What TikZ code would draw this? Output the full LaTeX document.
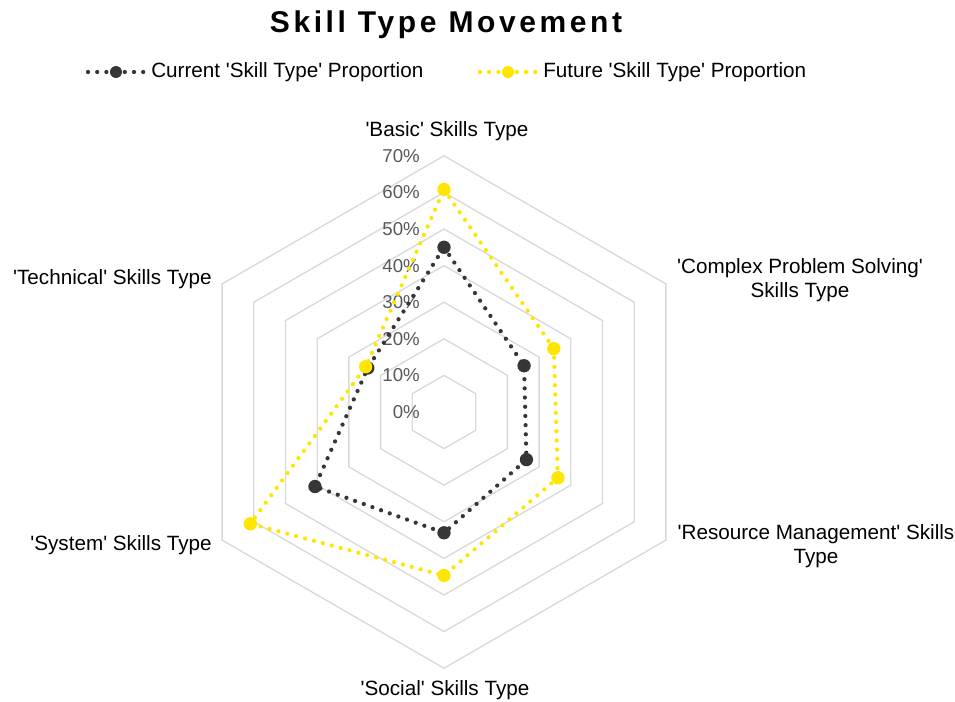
\documentclass[tikz,border=0pt]{standalone}
\usepackage{fontspec}
\setmainfont{Liberation Sans}
\newfontfamily\titlefont[LetterSpace=12]{Liberation Sans}
\usetikzlibrary{positioning}
\definecolor{curgray}{HTML}{363636}
\definecolor{futyellow}{HTML}{FFE600}
\definecolor{gridgray}{HTML}{D9D9D9}
\definecolor{tickgray}{HTML}{595959}
\newcommand\sq{\textquotesingle}
\tikzset{
  hexgrid/.style={draw=gridgray, line width=1pt, line join=miter},
  current/.style={draw=curgray, line width=3.2pt, line cap=round, dash pattern=on 0pt off 6.9pt},
  future/.style={draw=futyellow, line width=3.2pt, line cap=round, dash pattern=on 0pt off 6.9pt},
  curdot/.style={circle, fill=curgray, inner sep=0pt, minimum size=10pt},
  futdot/.style={circle, fill=futyellow, inner sep=0pt, minimum size=10pt},
  ticklabel/.style={anchor=east, text=tickgray, inner sep=0pt, font=\fontsize{14}{16}\selectfont},
  axislabel/.style={align=center, inner sep=0pt, font=\fontsize{15.5}{18}\selectfont},
  legendtext/.style={anchor=west, inner sep=0pt, font=\fontsize{15.5}{18}\selectfont}
}

\begin{document}
\begin{tikzpicture}[x=0.75pt, y=0.75pt]
    \useasboundingbox (-444,-289) rectangle (511,412);

    \node[font=\titlefont\bfseries\fontsize{22.5}{26}\selectfont] (title) at (2,387) {Skill Type Movement};

    % grid rings, 10% steps
    \draw[hexgrid] (90:36.6) -- (30:36.6) -- (-30:36.6) -- (-90:36.6) -- (210:36.6) -- (150:36.6) -- cycle;
    \draw[hexgrid] (90:73.2) -- (30:73.2) -- (-30:73.2) -- (-90:73.2) -- (210:73.2) -- (150:73.2) -- cycle;
    \draw[hexgrid] (90:109.8) -- (30:109.8) -- (-30:109.8) -- (-90:109.8) -- (210:109.8) -- (150:109.8) -- cycle;
    \draw[hexgrid] (90:146.4) -- (30:146.4) -- (-30:146.4) -- (-90:146.4) -- (210:146.4) -- (150:146.4) -- cycle;
    \draw[hexgrid] (90:183) -- (30:183) -- (-30:183) -- (-90:183) -- (210:183) -- (150:183) -- cycle;
    \draw[hexgrid] (90:219.6) -- (30:219.6) -- (-30:219.6) -- (-90:219.6) -- (210:219.6) -- (150:219.6) -- cycle;
    \draw[hexgrid] (90:256.2) -- (30:256.2) -- (-30:256.2) -- (-90:256.2) -- (210:256.2) -- (150:256.2) -- cycle;

    \node[ticklabel] (t0) at (-24,0) {0\%};
    \node[ticklabel] (t1) at (-24,36.6) {10\%};
    \node[ticklabel] (t2) at (-24,73.2) {20\%};
    \node[ticklabel] (t3) at (-24,109.8) {30\%};
    \node[ticklabel] (t4) at (-24,146.4) {40\%};
    \node[ticklabel] (t5) at (-24,183) {50\%};
    \node[ticklabel] (t6) at (-24,219.6) {60\%};
    \node[ticklabel] (t7) at (-24,256.2) {70\%};

    \node[axislabel] (basic) at (3,281) {\sq Basic\sq{} Skills Type};
    \node[axislabel] (complex) at (356,132) {\sq Complex Problem Solving\sq\\Skills Type};
    \node[axislabel] (resource) at (372,-134) {\sq Resource Management\sq{} Skills\\Type};
    \node[axislabel] (social) at (1,-278) {\sq Social\sq{} Skills Type};
    \node[axislabel, anchor=east] (system) at (-232,-133) {\sq System\sq{} Skills Type};
    \node[axislabel, anchor=east] (technical) at (-232,133) {\sq Technical\sq{} Skills Type};

    % current proportion
    \coordinate (cb) at (90:164.7);
    \coordinate (cc) at (30:92.5);
    \coordinate (cr) at (-30:95.2);
    \coordinate (cs) at (-90:120.8);
    \coordinate (cy) at (210:149);
    \coordinate (ct) at (150:88);
    \draw[current] (cb) -- (cc) -- (cr) -- (cs) -- (cy) -- (ct) -- cycle;
    \node[curdot] (cbm) at (cb) {};
    \node[curdot] (ccm) at (cc) {};
    \node[curdot] (crm) at (cr) {};
    \node[curdot] (csm) at (cs) {};
    \node[curdot] (cym) at (cy) {};
    \node[curdot] (ctm) at (ct) {};

    % future proportion
    \coordinate (fb) at (90:222.5);
    \coordinate (fc) at (30:126.8);
    \coordinate (fr) at (-30:131.5);
    \coordinate (fs) at (-90:163.5);
    \coordinate (fy) at (210:223.6);
    \coordinate (ft) at (150:90.5);
    \draw[future] (fb) -- (fc) -- (fr) -- (fs) -- (fy) -- (ft) -- cycle;
    \node[futdot] (fbm) at (fb) {};
    \node[futdot] (fcm) at (fc) {};
    \node[futdot] (frm) at (fr) {};
    \node[futdot] (fsm) at (fs) {};
    \node[futdot] (fym) at (fy) {};
    \node[futdot] (ftm) at (ft) {};

    % legend
    \coordinate (lc0) at (-356,340);
    \coordinate (lc1) at (-297,340);
    \draw[current] (lc0) -- (lc1);
    \node[curdot, minimum size=9pt] (lcm) at (-328,340) {};
    \node[legendtext, right=3pt of lc1] (lct) {Current \sq Skill Type\sq{} Proportion};
    \coordinate (lf0) at (36,340);
    \coordinate (lf1) at (95,340);
    \draw[future] (lf0) -- (lf1);
    \node[futdot, minimum size=9pt] (lfm) at (64,340) {};
    \node[legendtext, right=3pt of lf1] (lft) {Future \sq Skill Type\sq{} Proportion};
  \end{tikzpicture}
\end{document}
